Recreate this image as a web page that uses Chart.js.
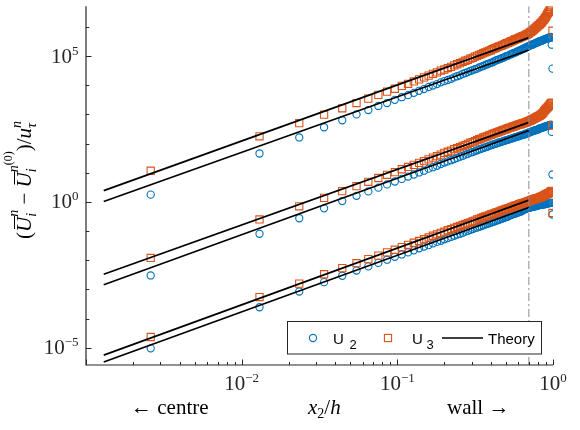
<!DOCTYPE html>
<html>
<head>
<meta charset="utf-8">
<script src="https://cdn.jsdelivr.net/npm/chart.js@4.4.0/dist/chart.umd.min.js"></script>
<style>
  body { margin: 0; background: #fff; }
  canvas { display: block; }
</style>
</head>
<body>
<canvas id="momentChart" width="580" height="430"></canvas>
<script>
// grid points x2/h, centre -> wall
const xGrid = [
  0.002604, 0.01302, 0.02344, 0.03385, 0.04427, 0.05469, 0.06510, 0.07552, 0.08594, 0.09635,
  0.1068, 0.1172, 0.1276, 0.1380, 0.1484, 0.1589, 0.1693, 0.1797, 0.1901, 0.2005,
  0.2109, 0.2214, 0.2318, 0.2422, 0.2526, 0.2630, 0.2734, 0.2839, 0.2943, 0.3047,
  0.3151, 0.3255, 0.3359, 0.3464, 0.3568, 0.3672, 0.3776, 0.3880, 0.3984, 0.4089,
  0.4193, 0.4297, 0.4401, 0.4505, 0.4609, 0.4714, 0.4818, 0.4922, 0.5026, 0.5130,
  0.5234, 0.5339, 0.5443, 0.5547, 0.5651, 0.5755, 0.5859, 0.5964, 0.6068, 0.6172,
  0.6276, 0.6380, 0.6484, 0.6589, 0.6693, 0.6797, 0.6901, 0.7005, 0.7109, 0.7214,
  0.7318, 0.7422, 0.7526, 0.7630, 0.7734, 0.7839, 0.7943, 0.8047, 0.8151, 0.8255,
  0.8359, 0.8464, 0.8568, 0.8672, 0.8776, 0.8880, 0.8984, 0.9089, 0.9193, 0.9297,
  0.9401, 0.9505, 0.9609, 0.9714, 0.9818, 0.9922
];

// log10 of the plotted values
const u3TopLog = [
  1.07, 2.25, 2.70, 2.99, 3.21, 3.39, 3.54, 3.67, 3.78, 3.88,
  3.98, 4.05, 4.13, 4.20, 4.27, 4.33, 4.39, 4.44, 4.50, 4.54,
  4.59, 4.63, 4.68, 4.72, 4.76, 4.80, 4.84, 4.87, 4.91, 4.94,
  4.98, 5.01, 5.04, 5.07, 5.10, 5.13, 5.15, 5.18, 5.20, 5.24,
  5.26, 5.28, 5.31, 5.33, 5.35, 5.37, 5.39, 5.41, 5.44, 5.45,
  5.47, 5.50, 5.51, 5.53, 5.56, 5.57, 5.59, 5.61, 5.62, 5.64,
  5.66, 5.68, 5.69, 5.70, 5.73, 5.74, 5.76, 5.78, 5.81, 5.83,
  5.86, 5.88, 5.91, 5.94, 5.97, 6.00, 6.02, 6.05, 6.07, 6.10,
  6.13, 6.16, 6.19, 6.23, 6.26, 6.30, 6.34, 6.39, 6.44, 6.48,
  6.52, 6.57, 6.62, 6.68, 6.92, 5.87
];
const u2TopLog = [
  0.25, 1.66, 2.21, 2.56, 2.80, 3.00, 3.15, 3.29, 3.39, 3.50,
  3.59, 3.66, 3.74, 3.81, 3.87, 3.94, 3.99, 4.04, 4.10, 4.14,
  4.18, 4.22, 4.27, 4.31, 4.34, 4.39, 4.42, 4.45, 4.49, 4.52,
  4.55, 4.57, 4.61, 4.64, 4.66, 4.70, 4.72, 4.74, 4.77, 4.79,
  4.82, 4.85, 4.87, 4.89, 4.91, 4.93, 4.95, 4.98, 5.00, 5.01,
  5.04, 5.06, 5.07, 5.10, 5.11, 5.13, 5.15, 5.17, 5.18, 5.21,
  5.22, 5.24, 5.26, 5.27, 5.30, 5.31, 5.33, 5.34, 5.36, 5.38,
  5.39, 5.40, 5.41, 5.43, 5.45, 5.46, 5.47, 5.48, 5.50, 5.51,
  5.52, 5.53, 5.54, 5.55, 5.57, 5.58, 5.59, 5.60, 5.61, 5.62,
  5.63, 5.64, 5.65, 5.66, 5.39, 4.57
];
const u3MidLog = [
  -1.92, -0.60, -0.15, 0.14, 0.37, 0.54, 0.69, 0.82, 0.93, 1.02,
  1.12, 1.20, 1.27, 1.34, 1.40, 1.46, 1.52, 1.57, 1.62, 1.68,
  1.72, 1.76, 1.81, 1.84, 1.88, 1.92, 1.95, 1.99, 2.03, 2.05,
  2.08, 2.12, 2.15, 2.17, 2.21, 2.23, 2.25, 2.28, 2.30, 2.33,
  2.35, 2.37, 2.39, 2.41, 2.43, 2.45, 2.47, 2.48, 2.50, 2.52,
  2.54, 2.55, 2.57, 2.58, 2.60, 2.61, 2.63, 2.64, 2.66, 2.66,
  2.68, 2.69, 2.70, 2.72, 2.73, 2.74, 2.76, 2.77, 2.79, 2.80,
  2.82, 2.84, 2.85, 2.87, 2.89, 2.90, 2.92, 2.93, 2.95, 2.97,
  2.99, 3.01, 3.04, 3.07, 3.11, 3.15, 3.18, 3.21, 3.23, 3.26,
  3.29, 3.33, 3.36, 3.38, 3.40, 2.62
];
const u2MidLog = [
  -2.52, -1.09, -0.56, -0.22, 0.03, 0.21, 0.36, 0.49, 0.60, 0.70,
  0.79, 0.87, 0.94, 1.01, 1.07, 1.14, 1.19, 1.24, 1.30, 1.35,
  1.39, 1.43, 1.47, 1.51, 1.55, 1.58, 1.62, 1.65, 1.69, 1.71,
  1.74, 1.77, 1.80, 1.82, 1.85, 1.87, 1.89, 1.92, 1.94, 1.96,
  1.98, 2.00, 2.02, 2.04, 2.05, 2.07, 2.09, 2.10, 2.12, 2.13,
  2.15, 2.16, 2.18, 2.19, 2.21, 2.22, 2.23, 2.25, 2.26, 2.27,
  2.29, 2.30, 2.31, 2.32, 2.34, 2.35, 2.36, 2.38, 2.39, 2.40,
  2.42, 2.43, 2.44, 2.45, 2.46, 2.47, 2.48, 2.49, 2.51, 2.52,
  2.53, 2.54, 2.55, 2.56, 2.57, 2.58, 2.59, 2.60, 2.61, 2.61,
  2.62, 2.63, 2.64, 2.65, 2.40, 0.94
];
const u3BotLog = [
  -4.63, -3.26, -2.80, -2.48, -2.27, -2.10, -1.96, -1.84, -1.73, -1.64,
  -1.55, -1.47, -1.40, -1.34, -1.28, -1.22, -1.16, -1.11, -1.06, -1.02,
  -0.97, -0.93, -0.89, -0.86, -0.82, -0.79, -0.76, -0.73, -0.70, -0.67,
  -0.64, -0.60, -0.58, -0.55, -0.52, -0.50, -0.48, -0.46, -0.43, -0.41,
  -0.39, -0.37, -0.35, -0.33, -0.31, -0.29, -0.27, -0.26, -0.24, -0.22,
  -0.21, -0.19, -0.17, -0.16, -0.14, -0.13, -0.11, -0.10, -0.08, -0.07,
  -0.05, -0.05, -0.04, -0.02, -0.01, 0.00, 0.02, 0.03, 0.04, 0.05,
  0.07, 0.08, 0.09, 0.10, 0.11, 0.12, 0.13, 0.13, 0.15, 0.16,
  0.17, 0.18, 0.20, 0.21, 0.22, 0.24, 0.25, 0.27, 0.28, 0.29,
  0.30, 0.32, 0.34, 0.36, 0.38, -0.38
];
const u2BotLog = [
  -5.02, -3.61, -3.07, -2.75, -2.53, -2.35, -2.21, -2.09, -1.98, -1.88,
  -1.80, -1.73, -1.66, -1.59, -1.53, -1.48, -1.42, -1.37, -1.33, -1.28,
  -1.24, -1.20, -1.16, -1.12, -1.09, -1.06, -1.02, -0.99, -0.96, -0.93,
  -0.90, -0.88, -0.85, -0.83, -0.80, -0.78, -0.75, -0.73, -0.71, -0.69,
  -0.67, -0.65, -0.63, -0.61, -0.59, -0.57, -0.55, -0.53, -0.52, -0.50,
  -0.48, -0.45, -0.44, -0.42, -0.41, -0.39, -0.38, -0.36, -0.35, -0.33,
  -0.32, -0.29, -0.27, -0.25, -0.24, -0.22, -0.21, -0.20, -0.20, -0.18,
  -0.17, -0.17, -0.16, -0.15, -0.15, -0.13, -0.13, -0.12, -0.11, -0.11,
  -0.10, -0.10, -0.09, -0.08, -0.08, -0.07, -0.07, -0.06, -0.06, -0.05,
  -0.04, -0.04, -0.03, -0.03, -0.03, -0.43
];

// theory power laws, end points
const theoryX = [0.0013, 0.7];
const theoryTopU3 = [2.45, 4.30e5];
const theoryTopU2 = [1.035, 1.62e5];
const theoryMidU3 = [3.33e-3, 535];
const theoryMidU2 = [1.45e-3, 282];
const theoryBotU3 = [5.61e-6, 1.156];
const theoryBotU2 = [3.24e-6, 0.643];

const wallLineX = 0.7;
const xMin = 0.001, xMax = 1;
const yMin = 2.57e-6, yMax = 5.13e6;

const yTickPowers = [-5, -4, -3, -2, -1, 0, 1, 2, 3, 4, 5, 6];
const yLabelPowers = [-5, 0, 5];
const xTickPowers = [-3, -2, -1, 0];
const xLabelPowers = [-2, -1, 0];

const BLUE = '#0072BD';
const ORANGE = '#D95319';
const AXIS = '#262626';
const SERIF = '"Liberation Serif", "DejaVu Serif", serif';
const SANS = '"Liberation Sans", Arial, sans-serif';

function toPoints(logs) {
  return xGrid.map((x, i) => ({ x: x, y: Math.pow(10, logs[i]) }));
}
function toLine(ys) {
  return theoryX.map((x, i) => ({ x: x, y: ys[i] }));
}

function markerSet(logs, color, style) {
  return {
    data: toPoints(logs),
    showLine: false,
    pointStyle: style,
    pointRadius: style === 'rect' ? 5.1 : 3.6,
    pointBorderWidth: 1.1,
    pointBorderColor: color,
    pointBackgroundColor: 'rgba(0,0,0,0)',
    borderColor: color
  };
}
function theorySet(ys) {
  return {
    data: toLine(ys),
    showLine: true,
    pointRadius: 0,
    borderColor: '#000',
    borderWidth: 1.7
  };
}

// text runs with super/subscripts, x advances along the run
function textRun(ctx, parts, draw) {
  let x = 0, stackW = 0;
  for (const p of parts) {
    ctx.font = (p.it ? 'italic ' : '') + p.s + 'px ' + (p.f || SERIF);
    const w = ctx.measureText(p.t).width;
    if (draw) {
      ctx.fillText(p.t, x, p.dy || 0);
      if (p.over) {
        ctx.beginPath();
        ctx.lineWidth = 1;
        ctx.moveTo(x + 3, -p.over);
        ctx.lineTo(x + w + 1, -p.over);
        ctx.stroke();
      }
    }
    if (p.stack) {
      stackW = Math.max(stackW, w);
    } else {
      x += Math.max(w, stackW);
      stackW = 0;
    }
  }
  return x;
}

function powLabel(ctx, p) {
  const exp = p < 0 ? '\u2212' + (-p) : String(p);
  ctx.font = '21px ' + SERIF;
  const wBase = ctx.measureText('10').width;
  ctx.font = '13px ' + SERIF;
  const wExp = ctx.measureText(exp).width;
  return { exp, wBase, wExp };
}

const axesPlugin = {
  id: 'matlabAxes',
  afterDraw(chart) {
    const { ctx, chartArea: a, scales: { x, y } } = chart;
    ctx.save();
    ctx.strokeStyle = AXIS;
    ctx.fillStyle = AXIS;
    ctx.lineWidth = 1.2;

    ctx.beginPath();
    ctx.moveTo(a.left, a.top);
    ctx.lineTo(a.left, a.bottom);
    ctx.lineTo(a.right, a.bottom);
    ctx.stroke();

    // y ticks, pointing inwards
    ctx.lineWidth = 1;
    yTickPowers.forEach(p => {
      const py = Math.round(y.getPixelForValue(Math.pow(10, p))) + 0.5;
      const len = yLabelPowers.includes(p) ? 5.5 : 3.3;
      ctx.beginPath();
      ctx.moveTo(a.left, py);
      ctx.lineTo(a.left + len, py);
      ctx.stroke();
    });
    // x ticks, major and minor
    xTickPowers.forEach(p => {
      const px = Math.round(x.getPixelForValue(Math.pow(10, p))) + 0.5;
      ctx.beginPath();
      ctx.moveTo(px, a.bottom);
      ctx.lineTo(px, a.bottom - 5.5);
      ctx.stroke();
      if (p < 0) {
        for (let m = 2; m <= 9; m++) {
          const mx = Math.round(x.getPixelForValue(m * Math.pow(10, p))) + 0.5;
          ctx.beginPath();
          ctx.moveTo(mx, a.bottom);
          ctx.lineTo(mx, a.bottom - 3);
          ctx.stroke();
        }
      }
    });

    // tick labels
    ctx.textBaseline = 'alphabetic';
    ctx.textAlign = 'left';
    yLabelPowers.forEach(p => {
      const py = y.getPixelForValue(Math.pow(10, p));
      const L = powLabel(ctx, p);
      const right = 78.5;
      ctx.font = '21px ' + SERIF;
      ctx.fillText('10', right - L.wExp - L.wBase, py + 6.5);
      ctx.font = '13px ' + SERIF;
      ctx.fillText(L.exp, right - L.wExp, py - 1.5);
    });
    xLabelPowers.forEach(p => {
      const px = x.getPixelForValue(Math.pow(10, p));
      const L = powLabel(ctx, p);
      const left = px - (L.wBase + L.wExp) / 2;
      ctx.font = '21px ' + SERIF;
      ctx.fillText('10', left, 390);
      ctx.font = '13px ' + SERIF;
      ctx.fillText(L.exp, left + L.wBase, 382);
    });

    // x axis texts
    ctx.fillStyle = '#000';
    ctx.font = '21px ' + SERIF;
    ctx.fillText('\u2190 centre', 131, 414);
    ctx.fillText('wall \u2192', 447, 414);
    ctx.save();
    ctx.translate(308, 414);
    textRun(ctx, [
      { t: 'x', s: 21, it: true },
      { t: '2', s: 14, dy: 4 },
      { t: '/', s: 21 },
      { t: 'h', s: 21, it: true }
    ], true);
    ctx.restore();

    // y axis label, rotated
    const yParts = [
      { t: '(', s: 21 },
      { t: 'U', s: 21, it: true, over: 16.5 },
      { t: 'n', s: 14, it: true, dy: -13, stack: true },
      { t: 'i', s: 14, it: true, dy: 5 },
      { t: ' \u2212 ', s: 21 },
      { t: 'U', s: 21, it: true, over: 16.5 },
      { t: 'n', s: 14, it: true, dy: -13, stack: true },
      { t: 'i', s: 14, it: true, dy: 5 },
      { t: '(0)', s: 12, dy: -19 },
      { t: ')', s: 21 },
      { t: '/', s: 21 },
      { t: 'u', s: 21, it: true },
      { t: 'n', s: 14, it: true, dy: -10, stack: true },
      { t: '\u03C4', s: 14, it: true, dy: 5 }
    ];
    ctx.strokeStyle = '#000';
    const len = textRun(ctx, yParts, false);
    ctx.save();
    ctx.translate(31, 180 + len / 2);
    ctx.rotate(-Math.PI / 2);
    textRun(ctx, yParts, true);
    ctx.restore();

    // legend box
    const lx = 287.5, ly = 321.5, lw = 254, lh = 32.5;
    ctx.fillStyle = '#fff';
    ctx.fillRect(lx, ly, lw, lh);
    ctx.strokeStyle = AXIS;
    ctx.lineWidth = 1;
    ctx.strokeRect(lx, ly, lw, lh);
    const my = 338;
    ctx.lineWidth = 1.1;
    ctx.strokeStyle = BLUE;
    ctx.beginPath();
    ctx.arc(313, my, 3.6, 0, Math.PI * 2);
    ctx.stroke();
    ctx.strokeStyle = ORANGE;
    ctx.strokeRect(384.4, my - 3.6, 7.2, 7.2);
    ctx.strokeStyle = '#000';
    ctx.lineWidth = 1.7;
    ctx.beginPath();
    ctx.moveTo(442, my);
    ctx.lineTo(483, my);
    ctx.stroke();
    ctx.fillStyle = '#000';
    ctx.font = '15px ' + SANS;
    ctx.fillText('U', 333, 343.5);
    ctx.fillText('U', 412, 343.5);
    ctx.fillText('Theory', 488, 343.5);
    ctx.font = '13px ' + SANS;
    ctx.fillText('2', 349.5, 348.5);
    ctx.fillText('3', 426.5, 348.5);
    ctx.restore();
  }
};

new Chart(document.getElementById('momentChart'), {
  type: 'scatter',
  data: {
    datasets: [
      {
        data: [{ x: wallLineX, y: yMin }, { x: wallLineX, y: yMax }],
        showLine: true,
        pointRadius: 0,
        borderColor: '#8c8c8c',
        borderWidth: 1,
        borderDash: [8, 3, 2, 3]
      },
      theorySet(theoryTopU3),
      theorySet(theoryTopU2),
      theorySet(theoryMidU3),
      theorySet(theoryMidU2),
      theorySet(theoryBotU3),
      theorySet(theoryBotU2),
      markerSet(u3TopLog, ORANGE, 'rect'),
      markerSet(u3MidLog, ORANGE, 'rect'),
      markerSet(u3BotLog, ORANGE, 'rect'),
      markerSet(u2TopLog, BLUE, 'circle'),
      markerSet(u2MidLog, BLUE, 'circle'),
      markerSet(u2BotLog, BLUE, 'circle')
    ]
  },
  options: {
    responsive: false,
    devicePixelRatio: 1,
    animation: false,
    layout: { padding: { left: 86, right: 27, top: 3, bottom: 65 } },
    plugins: { legend: { display: false }, tooltip: { enabled: false } },
    scales: {
      x: { type: 'logarithmic', min: xMin, max: xMax, display: false },
      y: { type: 'logarithmic', min: yMin, max: yMax, display: false }
    }
  },
  plugins: [axesPlugin]
});
</script>
</body>
</html>
